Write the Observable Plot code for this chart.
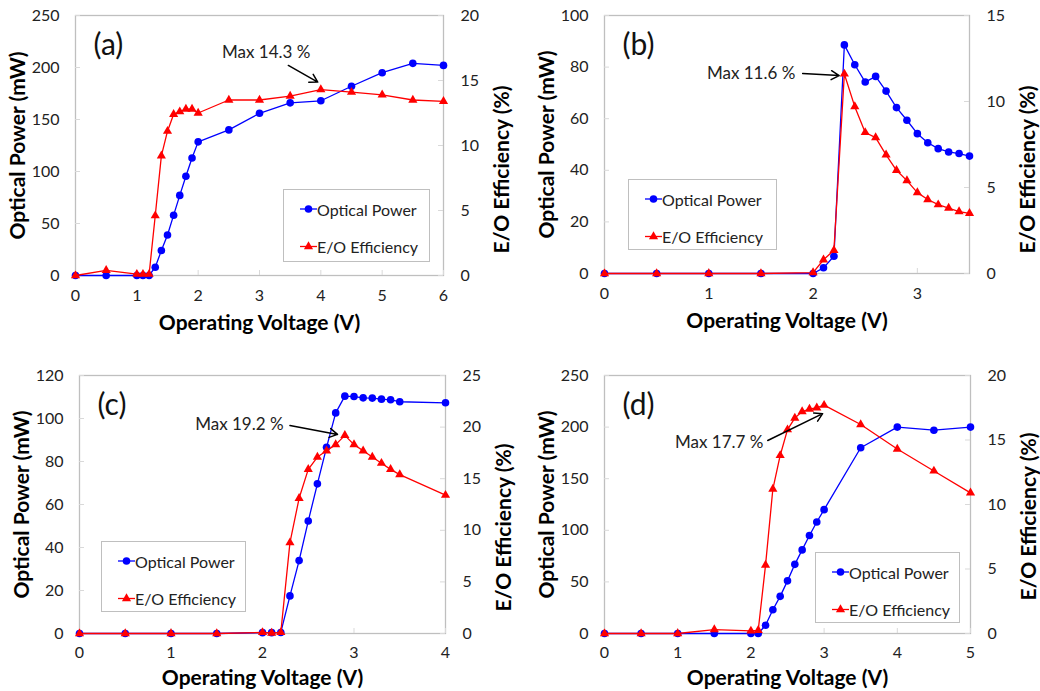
<!DOCTYPE html>
<html>
<head>
<meta charset="utf-8">
<script src="https://cdn.jsdelivr.net/npm/d3@7"></script>
<script src="https://cdn.jsdelivr.net/npm/@observablehq/plot@0.6"></script>
<style>
  body { margin: 0; background: #fff; }
  #wrap { position: relative; width: 1040px; height: 691px; font-family: Lato, "Open Sans", sans-serif; overflow: hidden; }
  .panel { position: absolute; }
  .panel svg { position: absolute; left: 0; top: 0; }
  .legend { position: absolute; box-sizing: border-box; border: 1.3px solid #bfbfbf; background: #fff;
            font-size: 16px; color: #222; padding: 9px 0 0 16px; }
  .legend .row { display: flex; align-items: center; height: 20px; margin-bottom: 17px; }
  .legend .row svg { position: static; margin-right: 0px; }
</style>
</head>
<body>
<div id="wrap"></div>
<script>
// ---------- data ----------
const seriesNames = ["Optical Power", "E/O Efficiency"];
const panelLabels = ["(a)", "(b)", "(c)", "(d)"];
const xTitle = "Operating Voltage (V)";
const yTitle = "Optical Power (mW)";
const y2Title = "E/O Efficiency (%)";

// (a)
const voltsA = [0, 0.5, 1, 1.1, 1.2, 1.3, 1.4, 1.5, 1.6, 1.7, 1.8, 1.9, 2, 2.5, 3, 3.5, 4, 4.5, 5, 5.5, 6];
const powerA = [0, 0, 0, 0, 0, 8, 24, 39, 58, 77, 95.5, 113, 128.5, 140, 156, 166, 168, 182, 195, 204, 202];
const effA   = [0, 0.4, 0.1, 0.1, 0.1, 4.6, 9.2, 11.1, 12.4, 12.6, 12.8, 12.8, 12.5, 13.5, 13.5, 13.8, 14.3, 14.1, 13.9, 13.5, 13.4];
const xTicksA = [0, 1, 2, 3, 4, 5, 6];
const yTicksA = [0, 50, 100, 150, 200, 250];
const y2TicksA = [0, 5, 10, 15, 20];

// (b)
const voltsB = [0, 0.5, 1, 1.5, 2, 2.1, 2.2, 2.3, 2.4, 2.5, 2.6, 2.7, 2.8, 2.9, 3, 3.1, 3.2, 3.3, 3.4, 3.5];
const powerB = [0, 0, 0, 0, 0, 2.2, 6.7, 88.6, 80.9, 74.2, 76.4, 70.7, 64.3, 59.4, 54.2, 50.7, 48.4, 47.1, 46.5, 45.5];
const effB   = [0, 0, 0, 0, 0.05, 0.8, 1.35, 11.6, 9.7, 8.2, 7.9, 6.9, 6.0, 5.4, 4.7, 4.3, 4.0, 3.8, 3.6, 3.5];
const xTicksB = [0, 1, 2, 3];
const yTicksB = [0, 20, 40, 60, 80, 100];
const y2TicksB = [0, 5, 10, 15];

// (c)
const voltsC = [0, 0.5, 1, 1.5, 2, 2.1, 2.2, 2.3, 2.4, 2.5, 2.6, 2.7, 2.8, 2.9, 3, 3.1, 3.2, 3.3, 3.4, 3.5, 4];
const powerC = [0, 0, 0, 0, 0.4, 0.4, 0.5, 17.5, 33.9, 52.3, 69.6, 86.6, 102.6, 110.4, 110.2, 109.6, 109.5, 109, 108.7, 107.8, 107.3];
const effC   = [0, 0, 0, 0, 0.1, 0.05, 0.1, 8.8, 13.1, 15.9, 17.1, 17.7, 18.3, 19.2, 18.3, 17.7, 17.1, 16.5, 15.9, 15.4, 13.4];
const xTicksC = [0, 1, 2, 3, 4];
const yTicksC = [0, 20, 40, 60, 80, 100, 120];
const y2TicksC = [0, 5, 10, 15, 20, 25];

// (d)
const voltsD = [0, 0.5, 1, 1.5, 2, 2.1, 2.2, 2.3, 2.4, 2.5, 2.6, 2.7, 2.8, 2.9, 3, 3.5, 4, 4.5, 5];
const powerD = [0, 0, 0, 0, 0, 0, 8, 23, 36, 51, 67, 81, 95, 108, 120, 180, 200, 197, 200];
const effD   = [0, 0, 0, 0.3, 0.2, 0.25, 5.3, 11.2, 13.8, 15.8, 16.7, 17.2, 17.4, 17.5, 17.7, 16.2, 14.3, 12.6, 10.9];
const xTicksD = [0, 1, 2, 3, 4, 5];
const yTicksD = [0, 50, 100, 150, 200, 250];
const y2TicksD = [0, 5, 10, 15, 20];

// annotations (data units of voltage / left axis)
const annTexts = ["Max 14.3 %", "Max 11.6 %", "Max 19.2 %", "Max 17.7 %"];
const annTextX = [3.83, 1.83, 2.23, 2.17];
const annTextY = [214, 77.5, 97.2, 185];
const annArrow = [
  [3.47, 202, 3.95, 186],
  [1.90, 77.5, 2.25, 76.7],
  [2.30, 96.7, 2.82, 92.6],
  [2.23, 187, 2.98, 213]
];

// ---------- layout ----------
const layouts = [
  {left: 0,   top: 0,   w: 520, h: 340, ml: 75, mr: 77, mt: 15, mb: 65, r2dy: 24, tp: 14, xdy: 48, leg: [283, 189, 147, 73]},
  {left: 520, top: 0,   w: 520, h: 340, ml: 84, mr: 71, mt: 15, mb: 67, r2dy: 25, tp: 14, xdy: 48, leg: [108, 179, 149, 71]},
  {left: 0,   top: 345, w: 520, h: 346, ml: 79, mr: 75, mt: 30, mb: 58, r2dy: 23, tp: 13, xdy: 45, leg: [101, 196, 145, 71]},
  {left: 520, top: 345, w: 520, h: 346, ml: 84, mr: 70, mt: 30, mb: 58, r2dy: 12, tp: 13, xdy: 45, leg: [295, 207, 145, 71]}
];

const panels = [
  {volts: voltsA, power: powerA, eff: effA, xT: xTicksA, yT: yTicksA, y2T: y2TicksA, xMax: 6},
  {volts: voltsB, power: powerB, eff: effB, xT: xTicksB, yT: yTicksB, y2T: y2TicksB, xMax: 3.5},
  {volts: voltsC, power: powerC, eff: effC, xT: xTicksC, yT: yTicksC, y2T: y2TicksC, xMax: 4},
  {volts: voltsD, power: powerD, eff: effD, xT: xTicksD, yT: yTicksD, y2T: y2TicksD, xMax: 5}
];

const BLUE = "#0000ff", RED = "#ff0000", FRAME = "#bfbfbf", TICK = "#d9d9d9";
const wrap = document.getElementById("wrap");
const titleStyle = {fontSize: 21, fontWeight: "bold", fill: "#000", textAnchor: "middle", lineAnchor: "middle"};

panels.forEach((p, idx) => {
  const L = layouts[idx];
  const yMax = p.yT[p.yT.length - 1];
  const y2Max = p.y2T[p.y2T.length - 1];
  const k = yMax / y2Max;
  const data = p.volts.map((v, i) => ({v, pw: p.power[i], ef: p.eff[i] * k}));
  const ann = [{t: annTexts[idx], x: annTextX[idx], y: annTextY[idx],
                x1: annArrow[idx][0], y1: annArrow[idx][1], x2: annArrow[idx][2], y2: annArrow[idx][3]}];

  const chart = Plot.plot({
    width: L.w, height: L.h,
    marginLeft: L.ml, marginRight: L.mr, marginTop: L.mt, marginBottom: L.mb,
    style: {fontFamily: "Lato, 'Open Sans', sans-serif", fontSize: "16px", color: "#222", background: "transparent", overflow: "visible"},
    x: {domain: [0, p.xMax]},
    y: {domain: [0, yMax]},
    marks: [
      Plot.frame({stroke: FRAME, strokeWidth: 1.3}),
      Plot.ruleX(p.xT, {x: d => d, y1: 0, y2: 0, insetTop: -5, stroke: TICK}),
      Plot.ruleY(p.yT, {y: d => d, x1: 0, x2: 0, insetRight: -5, stroke: TICK}),
      Plot.ruleY(p.y2T.map(t => t * k), {y: d => d, x1: p.xMax, x2: p.xMax, insetLeft: -5, stroke: TICK}),
      Plot.axisX(p.xT, {tickSize: 0, tickPadding: L.tp, label: null, tickFormat: d => String(d)}),
      Plot.axisY(p.yT, {anchor: "left", tickSize: 0, tickPadding: 16, label: null, tickFormat: d => String(d)}),
      Plot.axisY(p.y2T.map(t => t * k), {anchor: "right", tickSize: 0, tickPadding: 17, label: null, tickFormat: d => String(Math.round(d / k))}),
      Plot.line(data, {x: "v", y: "pw", stroke: BLUE, strokeWidth: 1.3}),
      Plot.dot(data, {x: "v", y: "pw", fill: BLUE, r: 3.8}),
      Plot.line(data, {x: "v", y: "ef", stroke: RED, strokeWidth: 1.3}),
      Plot.dot(data, {x: "v", y: "ef", symbol: "triangle", fill: RED, r: 3.4}),
      Plot.text(ann, {x: "x", y: "y", text: "t", textAnchor: "end", lineAnchor: "middle", fontSize: 17, fill: "#222"}),
      Plot.arrow(ann, {x1: "x1", y1: "y1", x2: "x2", y2: "y2", stroke: "#000", strokeWidth: 1.5, headLength: 9}),
      Plot.text([panelLabels[idx]], {frameAnchor: "top-left", dx: 18, dy: 30, fontSize: 30, textAnchor: "start", lineAnchor: "middle", fill: "#111"}),
      Plot.text([yTitle], {frameAnchor: "left", dx: -57, rotate: -90, ...titleStyle}),
      Plot.text([y2Title], {frameAnchor: "right", dx: 59, dy: L.r2dy, rotate: -90, ...titleStyle}),
      Plot.text([xTitle], {frameAnchor: "bottom", dy: L.xdy, ...titleStyle})
    ]
  });

  const div = document.createElement("div");
  div.className = "panel";
  div.style.left = L.left + "px";
  div.style.top = L.top + "px";
  div.style.width = L.w + "px";
  div.style.height = L.h + "px";
  div.appendChild(chart);

  // legend
  const leg = document.createElement("div");
  leg.className = "legend";
  leg.style.left = L.leg[0] + "px";
  leg.style.top = L.leg[1] + "px";
  leg.style.width = L.leg[2] + "px";
  leg.style.height = L.leg[3] + "px";
  const swatches = [
    `<svg width="17" height="12"><line x1="0" y1="6" x2="17" y2="6" stroke="${BLUE}" stroke-width="1.3"/><circle cx="8.5" cy="6" r="3.8" fill="${BLUE}"/></svg>`,
    `<svg width="17" height="12"><line x1="0" y1="6.5" x2="17" y2="6.5" stroke="${RED}" stroke-width="1.3"/><path d="${d3.symbol(d3.symbolTriangle, Math.PI * 3.4 * 3.4)()}" transform="translate(8.5,6.5)" fill="${RED}"/></svg>`
  ];
  seriesNames.forEach((name, i) => {
    const row = document.createElement("div");
    row.className = "row";
    row.innerHTML = swatches[i] + `<span>${name}</span>`;
    leg.appendChild(row);
  });
  div.appendChild(leg);
  wrap.appendChild(div);
});
</script>
</body>
</html>
